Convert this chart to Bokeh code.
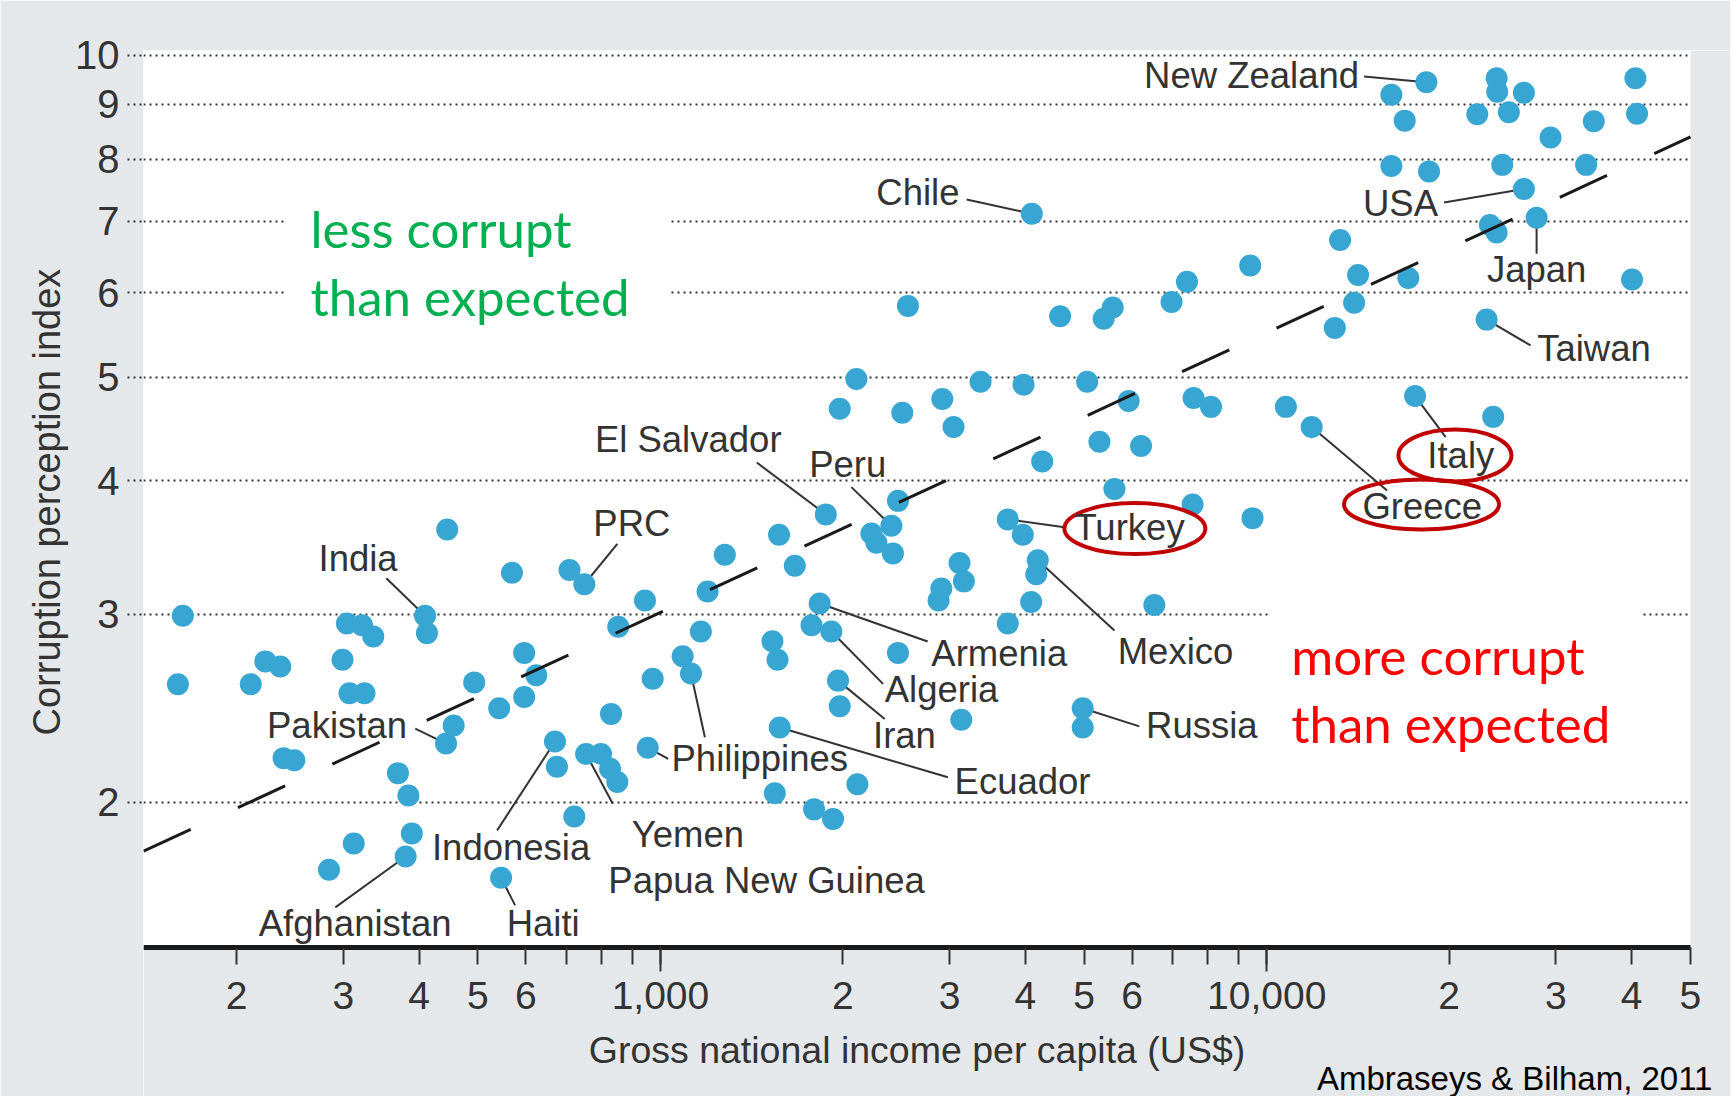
from bokeh.plotting import figure
from bokeh.models import Range1d, FixedTicker, Label, BoxAnnotation, Title
from bokeh.embed import file_html
from bokeh.resources import INLINE

# ---------------- data ----------------
# labelled countries: GNI per capita (US$) and corruption perception index
lab_names = ["India", "Pakistan", "Afghanistan", "Haiti", "Indonesia", "PRC",
             "Papua New Guinea", "Yemen", "Philippines", "El Salvador", "Peru",
             "Armenia", "Algeria", "Iran", "Ecuador", "Turkey", "Mexico", "Russia",
             "Chile", "Greece", "Italy", "Taiwan", "Japan", "USA", "New Zealand"]
lab_gni = [409, 443, 380, 546, 670, 749, 754, 953, 1123, 1874, 2404,
           1831, 1914, 1963, 1573, 3741, 4192, 4972,
           4098, 11863, 17567, 23053, 27873, 26560, 18339]
lab_cpi = [2.99, 2.27, 1.78, 1.70, 2.28, 3.20, 2.22, 2.25, 2.64, 3.72, 3.63,
           3.07, 2.89, 2.60, 2.35, 3.68, 3.37, 2.45,
           7.11, 4.49, 4.80, 5.66, 7.05, 7.50, 9.44]

# other countries
oth_gni = [445, 569, 163, 412, 304, 322, 336, 596, 299, 223, 236, 160, 211, 307, 325,
           493, 596, 542, 456, 239, 249, 369, 384, 312, 389, 284, 624,
           2465, 2228, 2271, 2418, 1569, 1666, 1277, 1196, 708, 943, 852, 1166,
           1775, 1530, 1560, 1088, 971, 2465, 1976, 829, 675, 798, 826, 849,
           2113, 1544, 1792, 1926, 721,
           5608, 7547, 9476, 3960, 3114, 3166, 2906, 2876, 4167, 4088, 3741, 6526,
           3135, 4972,
           2560, 2105, 1976, 2506,
           9393, 7387, 6967, 5572, 5384, 4563, 3373, 3971, 5056, 2917, 3044, 5920,
           7575, 8094, 10756, 5298, 6205, 4263,
           16055, 16891, 23947, 24000, 26560, 22250, 25085, 40565, 40817, 34634,
           29391, 16055, 18525, 24465, 33639, 23342, 23947, 13214, 14148, 17122,
           40051, 13937, 12952, 23636]
oth_cpi = [3.60, 3.28, 2.99, 2.88, 2.94, 2.93, 2.86, 2.76, 2.72, 2.71, 2.68, 2.58, 2.58, 2.53, 2.53,
           2.59, 2.51, 2.45, 2.36, 2.20, 2.19, 2.13, 2.03, 1.83, 1.87, 1.73, 2.63,
           3.83, 3.57, 3.50, 3.42, 3.56, 3.33, 3.41, 3.15, 3.30, 3.09, 2.92, 2.89,
           2.93, 2.83, 2.72, 2.74, 2.61, 2.76, 2.46, 2.42, 2.16, 2.22, 2.15, 2.09,
           2.08, 2.04, 1.97, 1.93, 1.94,
           3.93, 3.80, 3.69, 3.56, 3.35, 3.22, 3.17, 3.09, 3.27, 3.08, 2.94, 3.06,
           2.39, 2.35,
           5.83, 4.98, 4.67, 4.63,
           6.36, 6.14, 5.88, 5.81, 5.67, 5.70, 4.95, 4.92, 4.95, 4.77, 4.49, 4.75,
           4.78, 4.69, 4.69, 4.35, 4.31, 4.17,
           9.19, 8.69, 9.52, 9.25, 9.23, 8.81, 8.85, 9.52, 8.82, 8.68,
           8.38, 7.88, 7.79, 7.90, 7.90, 6.94, 6.83, 6.72, 6.23, 6.19,
           6.17, 5.87, 5.56, 4.59]

# regression line (end points)
fit_gni = [140.4, 50000]
fit_cpi = [1.80, 8.39]

# axis ticks
x_ticks = [200, 300, 400, 500, 600, 700, 800, 900, 1000,
           2000, 3000, 4000, 5000, 6000, 7000, 8000, 9000, 10000,
           20000, 30000, 40000, 50000]
x_tick_labels = ["2", "3", "4", "5", "6", "", "", "", "1,000",
                 "2", "3", "4", "5", "6", "", "", "", "10,000",
                 "2", "3", "4", "5"]
x_decade_ticks = [1000, 10000]
y_ticks = [2, 3, 4, 5, 6, 7, 8, 9, 10]
y_tick_labels = ["2", "3", "4", "5", "6", "7", "8", "9", "10"]

# plotted region (the white panel) and full frame extent
X_MIN, X_MAX = 140.4, 50000
Y_PLOT_MIN, Y_MAX = 1.4632, 10.108
Y_FRAME_MIN = 1.0611          # frame continues below the x axis (grey margin)
X_FRAME_MAX = 58210           # ... and right of the panel

# ---------------- annotation layout ----------------
# name: (label x, label y, align, leader start x, leader start y)
label_layout = {
    "India": (368.6, 3.386, "right", 353.1, 3.242),
    "Pakistan": (381.9, 2.360, "right", 394.1, 2.344),
    "Afghanistan": (217.5, 1.542, "left", 290.9, 1.595),
    "Haiti": (557.6, 1.540, "left", 575.9, 1.602),
    "Indonesia": (419.9, 1.813, "left", 537.8, 1.883),
    "PRC": (775, 3.648, "left", 849, 3.491),
    "Papua New Guinea": (820.4, 1.690, "left", 834.4, 1.994),
    "Yemen": (896.8, 1.866, "left", 1030, 2.197),
    "Philippines": (1043, 2.198, "left", 1184, 2.301),
    "El Salvador": (1584, 4.372, "right", 1442, 4.160),
    "Peru": (1759, 4.142, "left", 2065, 3.945),
    "Armenia": (2798, 2.759, "left", 2759, 2.829),
    "Algeria": (2344, 2.551, "left", 2329, 2.582),
    "Iran": (2242, 2.310, "left", 2344, 2.394),
    "Ecuador": (3056, 2.092, "left", 2979, 2.111),
    "Turkey": (4818, 3.617, "left", 4669, 3.617),
    "Mexico": (5678, 2.768, "left", 5608, 2.896),
    "Russia": (6324, 2.358, "left", 6166, 2.356),
    "Chile": (3114, 7.444, "right", 3199, 7.332),
    "Greece": (14383, 3.784, "left", 15794, 3.916),
    "Italy": (18406, 4.223, "left", 19737, 4.393),
    "Taiwan": (27930, 5.320, "left", 27242, 5.354),
    "Japan": (27873, 6.306, "center", 27873, 6.523),
    "USA": (19169, 7.270, "right", 19610, 7.285),
    "New Zealand": (14204, 9.578, "right", 14475, 9.557),
}
highlight_x = [6061, 20442, 18004]   # Turkey, Italy, Greece
highlight_y = [3.608, 4.223, 3.801]
highlight_w = [141, 113, 155]
highlight_h = [51, 52, 50]

BG = "#e4e8ea"
DOT = "#38a6d2"
INK = "#333333"
FONT = "Liberation Sans"

p = figure(width=1730, height=1096, x_axis_type="log", y_axis_type="log",
           x_range=Range1d(X_MIN, X_FRAME_MAX), y_range=Range1d(Y_FRAME_MIN, Y_MAX),
           output_backend="svg", toolbar_location=None,
           background_fill_color="white", border_fill_color=BG,
           min_border_left=143, min_border_right=0, min_border_top=50,
           min_border_bottom=0)
p.outline_line_color = None

# grey margins under and right of the plotted panel
p.add_layout(BoxAnnotation(top=Y_PLOT_MIN, fill_color=BG, fill_alpha=1.0,
                           line_color=None, level="underlay"))
p.add_layout(BoxAnnotation(left=X_MAX, fill_color=BG, fill_alpha=1.0,
                           line_color=None, level="underlay"))

# x axis, drawn at the bottom of the plotted panel
p.xaxis.fixed_location = Y_PLOT_MIN
p.xaxis.bounds = (X_MIN, X_MAX)
p.xaxis.ticker = FixedTicker(ticks=x_ticks, minor_ticks=x_decade_ticks)
p.xaxis.major_label_overrides = {t: l for t, l in zip(x_ticks, x_tick_labels)}
p.xaxis.axis_line_width = 5
p.xaxis.axis_line_color = "#1a1a1a"
p.xaxis.major_tick_out = 17
p.xaxis.major_tick_in = 0
p.xaxis.major_tick_line_width = 2
p.xaxis.major_tick_line_color = INK
p.xaxis.minor_tick_out = 24
p.xaxis.minor_tick_in = 0
p.xaxis.minor_tick_line_width = 2
p.xaxis.minor_tick_line_color = INK
p.xaxis.major_label_text_font = FONT
p.xaxis.major_label_text_font_size = "39px"
p.xaxis.major_label_text_color = INK
p.xaxis.major_label_standoff = 11
p.xaxis.axis_label = "Gross national income per capita (US$)"
p.xaxis.axis_label_text_font = FONT
p.xaxis.axis_label_text_font_size = "37.5px"
p.xaxis.axis_label_text_font_style = "normal"
p.xaxis.axis_label_text_color = INK
p.xaxis.axis_label_standoff = 16

# y axis (ticks act as the dotted extension of the grid lines)
p.yaxis.ticker = FixedTicker(ticks=y_ticks, minor_ticks=[])
p.yaxis.major_label_overrides = {t: l for t, l in zip(y_ticks, y_tick_labels)}
p.yaxis.axis_line_color = None
p.yaxis.major_tick_out = 16
p.yaxis.major_tick_in = 0
p.yaxis.major_tick_line_dash = "2 4"
p.yaxis.major_tick_line_width = 2
p.yaxis.major_tick_line_color = INK
p.yaxis.minor_tick_line_color = None
p.yaxis.major_label_text_font = FONT
p.yaxis.major_label_text_font_size = "40px"
p.yaxis.major_label_text_color = INK
p.yaxis.major_label_standoff = 8

# y axis title (placed beside the plotted panel)
p.add_layout(Title(text="Corruption perception index", align="left", offset=361,
                   vertical_align="bottom", standoff=9,
                   text_font=FONT, text_font_size="38px", text_font_style="normal",
                   text_color=INK), "left")

p.xgrid.grid_line_color = None
p.ygrid.grid_line_color = INK
p.ygrid.grid_line_dash = "2 4"
p.ygrid.grid_line_width = 2

# leader lines
pos = {n: (gx, cy) for n, gx, cy in zip(lab_names, lab_gni, lab_cpi)}
p.segment(x0=[label_layout[n][3] for n in lab_names],
          y0=[label_layout[n][4] for n in lab_names],
          x1=[pos[n][0] for n in lab_names],
          y1=[pos[n][1] for n in lab_names],
          line_color=INK, line_width=2)

# points
p.scatter(x=oth_gni, y=oth_cpi, size=22, fill_color=DOT, line_color=None)
p.scatter(x=lab_gni, y=lab_cpi, size=22, fill_color=DOT, line_color=None)

# regression line
p.line(x=fit_gni, y=fit_cpi, line_color="#1a1a1a", line_width=3, line_dash="52 52")

# red highlight ellipses
p.ellipse(x=highlight_x, y=highlight_y, width=highlight_w, height=highlight_h,
          width_units="screen", height_units="screen",
          fill_color=None, line_color="#c00000", line_width=4)

# country labels
for n in lab_names:
    lx, ly, al, _, _ = label_layout[n]
    p.add_layout(Label(x=lx, y=ly, text=n, text_align=al, text_baseline="middle",
                       text_font=FONT, text_font_size="36.5px", text_color=INK))

# region annotations (white boxes interrupt the grid lines)
p.add_layout(Label(x=240.7, y=7.476, text="less corrupt\nthan expected",
                   text_align="left", text_baseline="top",
                   text_font="Lato", text_font_size="51px", text_color="#00b050",
                   text_line_height=1.1,
                   background_fill_color="white",
                   padding=dict(top=8, right=39, bottom=8, left=25)))
p.add_layout(Label(x=10057, y=3.057, text="more corrupt\nthan expected",
                   text_align="left", text_baseline="top",
                   text_font="Lato", text_font_size="51px", text_color="#ff0000",
                   text_line_height=1.1,
                   background_fill_color="white",
                   padding=dict(top=20, right=32, bottom=8, left=23)))

# source credit
p.add_layout(Label(x=X_MAX, y=1.1031, x_offset=22,
                   text="Ambraseys & Bilham, 2011", text_align="right",
                   text_baseline="alphabetic", text_font=FONT,
                   text_font_size="33px", text_color="black"))

open("out.html", "w").write(file_html(p, INLINE, title="Corruption vs income"))
